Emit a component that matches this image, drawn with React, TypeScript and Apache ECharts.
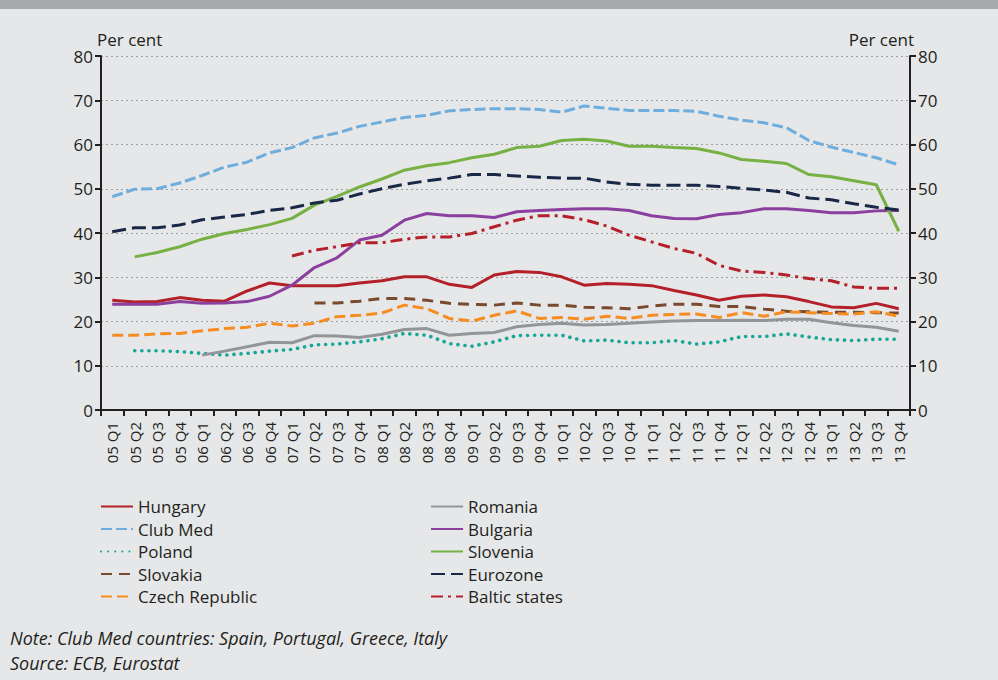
import React, { useEffect, useRef } from "react";
import * as echarts from "echarts";

const quarters: string[] = [];
for (const y of ["05", "06", "07", "08", "09", "10", "11", "12", "13"]) {
  for (const q of ["Q1", "Q2", "Q3", "Q4"]) quarters.push(`${y} ${q}`);
}

const hungary = [24.8, 24.4, 24.5, 25.4, 24.8, 24.6, 26.9, 28.7, 28.1, 28.1, 28.1, 28.7, 29.2, 30.1, 30.1, 28.4, 27.7, 30.5, 31.3, 31.1, 30.1, 28.2, 28.6, 28.4, 28.1, 27.0, 26.0, 24.8, 25.7, 26.0, 25.6, 24.5, 23.3, 23.1, 24.1, 22.9];
const clubMed = [48.2, 49.9, 50.0, 51.3, 53.0, 54.9, 56.0, 58.1, 59.3, 61.5, 62.6, 64.1, 65.1, 66.1, 66.6, 67.6, 67.9, 68.1, 68.1, 67.9, 67.3, 68.7, 68.2, 67.7, 67.7, 67.7, 67.5, 66.4, 65.5, 64.9, 63.8, 60.9, 59.4, 58.2, 57.0, 55.4];
const poland = [null, 13.4, 13.4, 13.2, 12.8, 12.4, 12.8, 13.3, 13.7, 14.7, 14.9, 15.4, 16.1, 17.3, 16.9, 15.0, 14.4, 15.4, 16.8, 16.9, 16.9, 15.6, 15.8, 15.2, 15.2, 15.7, 14.9, 15.4, 16.6, 16.6, 17.2, 16.5, 15.9, 15.7, 16.0, 16.0];
const slovakia = [null, null, null, null, null, null, null, null, null, 24.2, 24.2, 24.6, 25.2, 25.2, 24.8, 24.1, 23.9, 23.7, 24.2, 23.7, 23.7, 23.2, 23.1, 22.9, 23.5, 23.9, 23.9, 23.4, 23.4, 22.8, 22.3, 22.2, 22.1, 22.1, 22.0, 21.9];
const czech = [16.9, 16.9, 17.2, 17.3, 17.9, 18.4, 18.7, 19.6, 19.0, 19.6, 21.1, 21.4, 21.9, 23.7, 22.9, 20.7, 20.1, 21.4, 22.4, 20.7, 20.9, 20.5, 21.2, 20.7, 21.4, 21.6, 21.7, 20.9, 22.0, 21.2, 22.2, 22.0, 21.8, 21.7, 22.2, 21.2];
const romania = [null, null, null, null, 12.4, 13.3, 14.3, 15.3, 15.2, 16.8, 16.7, 16.4, 17.1, 18.2, 18.4, 16.9, 17.3, 17.5, 18.8, 19.3, 19.6, 19.2, 19.3, 19.6, 19.9, 20.1, 20.2, 20.2, 20.3, 20.2, 20.5, 20.5, 19.7, 19.1, 18.7, 17.8];
const bulgaria = [23.9, 23.9, 23.9, 24.5, 24.1, 24.2, 24.5, 25.7, 28.2, 32.2, 34.4, 38.4, 39.5, 42.9, 44.4, 43.9, 43.9, 43.5, 44.8, 45.1, 45.3, 45.5, 45.5, 45.1, 43.9, 43.3, 43.2, 44.2, 44.6, 45.5, 45.5, 45.1, 44.6, 44.6, 45.0, 45.1];
const slovenia = [null, 34.6, 35.6, 36.9, 38.6, 39.9, 40.8, 41.9, 43.3, 46.3, 48.3, 50.4, 52.2, 54.2, 55.2, 55.9, 57.0, 57.8, 59.3, 59.6, 60.9, 61.2, 60.8, 59.6, 59.6, 59.3, 59.1, 58.1, 56.6, 56.2, 55.7, 53.2, 52.7, 51.8, 50.9, 40.4];
const eurozone = [40.3, 41.2, 41.2, 41.8, 43.0, 43.6, 44.2, 45.1, 45.7, 46.8, 47.4, 48.8, 50.0, 51.0, 51.8, 52.4, 53.2, 53.2, 52.9, 52.6, 52.4, 52.4, 51.5, 51.0, 50.8, 50.8, 50.8, 50.5, 50.1, 49.7, 49.2, 47.9, 47.5, 46.6, 45.8, 45.2];
const baltic = [null, null, null, null, null, null, null, null, 34.8, 36.1, 36.9, 37.8, 37.8, 38.6, 39.1, 39.1, 39.9, 41.4, 42.9, 43.9, 43.9, 43.0, 41.6, 39.5, 38.0, 36.5, 35.4, 32.7, 31.4, 31.1, 30.5, 29.7, 29.2, 27.8, 27.5, 27.5];

const yTicks = [0, 10, 20, 30, 40, 50, 60, 70, 80];
const leftLegend = ["Hungary", "Club Med", "Poland", "Slovakia", "Czech Republic"];
const rightLegend = ["Romania", "Bulgaria", "Slovenia", "Eurozone", "Baltic states"];

const FONT = "Open Sans";
const TXT = "#231f20";

export default function App() {
  const ref = useRef<HTMLDivElement>(null);
  useEffect(() => {
    const chart = echarts.init(ref.current!, null, { renderer: "svg" });
    const mk = (name: string, data: (number | null)[], color: string, type: any, width = 3, cap: any = "butt") => ({
      name,
      type: "line",
      data,
      symbol: "none",
      connectNulls: false,
      lineStyle: { color, width, type, cap },
      itemStyle: { color },
    });
    const series = [
      mk("Hungary", hungary, "#b3202a", "solid"),
      mk("Club Med", clubMed, "#6eaedf", [11, 4]),
      mk("Poland", poland, "#19a598", [0.1, 7], 3.6, "round"),
      mk("Slovakia", slovakia, "#7a4a2e", [11, 7]),
      mk("Czech Republic", czech, "#f58d22", [11, 5]),
      mk("Romania", romania, "#939598", "solid"),
      mk("Bulgaria", bulgaria, "#8b3f9e", "solid"),
      mk("Slovenia", slovenia, "#77b143", "solid"),
      mk("Eurozone", eurozone, "#182846", [14, 6]),
      mk("Baltic states", baltic, "#b3202a", [12, 5, 3, 5]),
    ];
    const yAxisBase = (pos: "left" | "right") => ({
      type: "value",
      position: pos,
      min: 0,
      max: 80,
      interval: 10,
      name: "Per cent",
      nameLocation: "end",
      nameGap: 6,
      nameTextStyle: {
        fontFamily: FONT,
        fontSize: 17,
        color: TXT,
        align: pos === "left" ? "left" : "right",
        padding: pos === "left" ? [0, 0, 0, -4] : [0, -4, 0, 0],
      },
      axisLine: { show: true, lineStyle: { color: TXT, width: 2 } },
      axisTick: { show: true, length: 6, lineStyle: { color: TXT, width: 2 } },
      axisLabel: {
        fontFamily: FONT,
        fontSize: 17,
        color: TXT,
        margin: 8,
        formatter: (v: number) => (yTicks.includes(v) ? String(v) : ""),
      },
      splitLine: {
        show: pos === "left",
        lineStyle: { color: "#9d9fa2", width: 1.2, type: [2, 3] },
      },
    });
    const legendBase = {
      orient: "vertical",
      top: 493,
      itemWidth: 32,
      itemHeight: 14,
      itemGap: 5.5,
      textStyle: { fontFamily: FONT, fontSize: 17, color: TXT },
      itemStyle: { color: "rgba(0,0,0,0)", borderColor: "rgba(0,0,0,0)", borderWidth: 0, opacity: 0 },
      selectedMode: false,
    };
    chart.setOption({
      animation: false,
      backgroundColor: "#e6e7e8",
      grid: { left: 101, right: 88, top: 56, bottom: 270, containLabel: false },
      xAxis: {
        type: "category",
        data: quarters,
        boundaryGap: true,
        axisLine: { lineStyle: { color: TXT, width: 2 } },
        axisTick: { show: true, length: 6, interval: 0, lineStyle: { color: TXT, width: 2 } },
        axisLabel: {
          interval: 0,
          rotate: 90,
          fontFamily: FONT,
          fontSize: 15,
          color: TXT,
          margin: 12,
        },
        splitLine: { show: false },
      },
      yAxis: [yAxisBase("left"), yAxisBase("right")],
      legend: [
        { ...legendBase, data: leftLegend, left: 95 },
        { ...legendBase, data: rightLegend, left: 425 },
      ],
      graphic: [
        { type: "rect", left: 0, top: 0, shape: { width: 998, height: 9 }, style: { fill: "#a7a9ac" } },
        {
          type: "text",
          left: 10,
          top: 629,
          style: { text: "Note: Club Med countries: Spain, Portugal, Greece, Italy", fontSize: 18, lineHeight: 18, fontStyle: "italic", fontFamily: FONT, fill: TXT },
        },
        {
          type: "text",
          left: 10,
          top: 654,
          style: { text: "Source: ECB, Eurostat", fontSize: 18, lineHeight: 18, fontStyle: "italic", fontFamily: FONT, fill: TXT },
        },
      ],
      series: series.map((s) => ({ ...s, yAxisIndex: 0 })),
    });
    return () => chart.dispose();
  }, []);
  return <div ref={ref} style={{ position: "absolute", left: 0, top: 0, width: 998, height: 680 }} />;
}
